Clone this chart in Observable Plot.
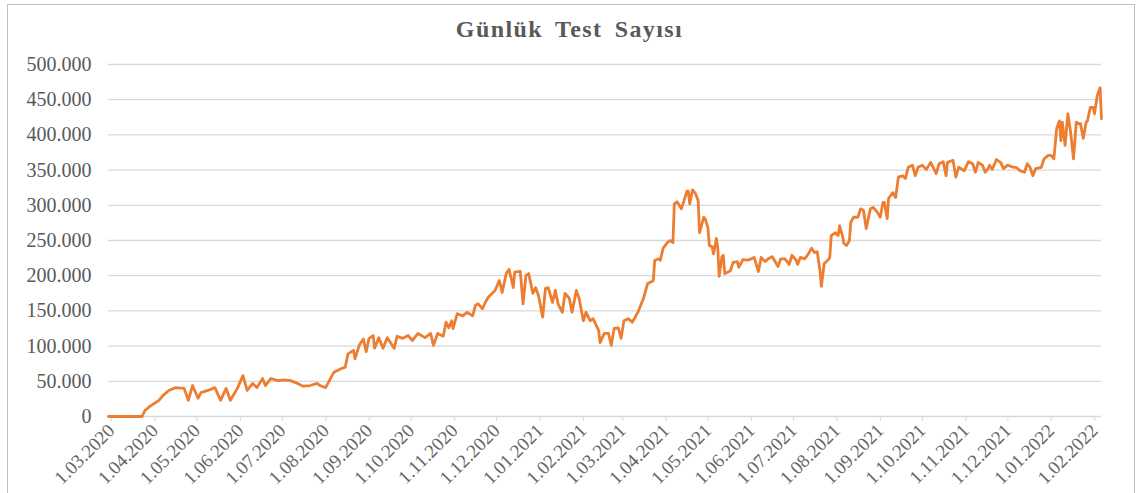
<!DOCTYPE html>
<html><head><meta charset="utf-8">
<script src="https://cdn.jsdelivr.net/npm/d3@7"></script>
<script src="https://cdn.jsdelivr.net/npm/@observablehq/plot@0.6"></script>
<style>
body{margin:0;background:#fff;}
#frame{position:absolute;left:7px;top:4px;width:1128px;height:540px;border:1px solid #bfbfbf;box-sizing:border-box;}
#title{position:absolute;left:0;top:16px;width:1139px;text-align:center;font-family:"Liberation Serif","Times New Roman",serif;font-weight:bold;font-size:24px;color:#595959;letter-spacing:1.4px;word-spacing:5px;}
#chart{position:absolute;left:0;top:50px;}
</style></head>
<body>
<div id="frame"></div>
<div id="title">Günlük Test Sayısı</div>
<div id="chart"></div>
<script>
const titleText = "Günlük Test Sayısı";
const yTicks = [0, 50000, 100000, 150000, 200000, 250000, 300000, 350000, 400000, 450000, 500000];

const dates = [
  // 2020
  "2020-03-01","2020-03-25","2020-03-27","2020-03-31",
  "2020-04-06","2020-04-09","2020-04-13","2020-04-18","2020-04-24","2020-04-27","2020-04-30",
  "2020-05-04","2020-05-06","2020-05-11","2020-05-16","2020-05-20","2020-05-24","2020-05-27",
  "2020-06-01","2020-06-05","2020-06-08","2020-06-12","2020-06-15","2020-06-19","2020-06-21","2020-06-25","2020-06-30",
  "2020-07-04","2020-07-09","2020-07-14","2020-07-18","2020-07-23","2020-07-28","2020-07-30",
  "2020-08-03","2020-08-07","2020-08-09","2020-08-14","2020-08-17","2020-08-19","2020-08-23","2020-08-24","2020-08-27","2020-08-30",
  "2020-09-01","2020-09-03","2020-09-06","2020-09-07","2020-09-10","2020-09-13","2020-09-16","2020-09-21","2020-09-23","2020-09-27",
  "2020-10-01","2020-10-04","2020-10-08","2020-10-13","2020-10-17","2020-10-19","2020-10-22","2020-10-26","2020-10-28","2020-10-30",
  "2020-11-01","2020-11-02","2020-11-05","2020-11-09","2020-11-12","2020-11-16","2020-11-18","2020-11-20","2020-11-23","2020-11-25","2020-11-27","2020-11-30",
  "2020-12-02","2020-12-05","2020-12-06","2020-12-07","2020-12-10","2020-12-12","2020-12-15","2020-12-16","2020-12-20","2020-12-22","2020-12-24","2020-12-26","2020-12-29","2020-12-31",
  // 2021
  "2021-01-02","2021-01-05","2021-01-07","2021-01-09","2021-01-12","2021-01-14","2021-01-16","2021-01-19","2021-01-21","2021-01-24","2021-01-26","2021-01-29","2021-01-31",
  "2021-02-03","2021-02-05","2021-02-08","2021-02-10","2021-02-14","2021-02-15","2021-02-18","2021-02-21","2021-02-23","2021-02-25","2021-02-28",
  "2021-03-02","2021-03-04","2021-03-07","2021-03-10","2021-03-14","2021-03-18","2021-03-21","2021-03-25","2021-03-26","2021-03-29","2021-03-30",
  "2021-04-01","2021-04-04","2021-04-06","2021-04-08","2021-04-09","2021-04-11","2021-04-14","2021-04-16","2021-04-18","2021-04-19","2021-04-20","2021-04-22","2021-04-24","2021-04-26","2021-04-27","2021-04-30",
  "2021-05-01","2021-05-03","2021-05-04","2021-05-06","2021-05-07","2021-05-09","2021-05-10","2021-05-11","2021-05-13","2021-05-14","2021-05-15","2021-05-17","2021-05-19","2021-05-21","2021-05-24","2021-05-25","2021-05-28","2021-05-31",
  "2021-06-03","2021-06-05","2021-06-08","2021-06-10","2021-06-13","2021-06-15","2021-06-18","2021-06-22","2021-06-24","2021-06-27","2021-06-30",
  "2021-07-02","2021-07-05","2021-07-06","2021-07-08","2021-07-11","2021-07-13","2021-07-14","2021-07-16","2021-07-18","2021-07-20","2021-07-22","2021-07-23","2021-07-25","2021-07-28","2021-07-29","2021-07-30",
  "2021-08-02","2021-08-04","2021-08-05","2021-08-07","2021-08-08","2021-08-10","2021-08-12","2021-08-13","2021-08-15","2021-08-18","2021-08-20","2021-08-22","2021-08-24","2021-08-27","2021-08-29",
  "2021-09-01","2021-09-03","2021-09-05","2021-09-06","2021-09-08","2021-09-09","2021-09-12","2021-09-14","2021-09-16","2021-09-19","2021-09-21","2021-09-23","2021-09-26","2021-09-28","2021-09-30",
  "2021-10-03","2021-10-06","2021-10-09","2021-10-13","2021-10-15","2021-10-18","2021-10-20","2021-10-21","2021-10-25","2021-10-27","2021-10-29",
  "2021-11-02","2021-11-05","2021-11-08","2021-11-10","2021-11-12","2021-11-15","2021-11-17","2021-11-19","2021-11-20","2021-11-22","2021-11-25","2021-11-28","2021-11-30",
  "2021-12-03","2021-12-07","2021-12-09","2021-12-12","2021-12-15","2021-12-17","2021-12-19","2021-12-21","2021-12-23","2021-12-27","2021-12-29",
  // 2022
  "2022-01-01","2022-01-03","2022-01-05","2022-01-07","2022-01-09","2022-01-10","2022-01-11","2022-01-13","2022-01-15","2022-01-17","2022-01-19","2022-01-21","2022-01-23","2022-01-24","2022-01-26","2022-01-28","2022-01-29","2022-01-31",
  "2022-02-02","2022-02-03","2022-02-05","2022-02-07","2022-02-08"
];

const tests = [
  // 2020
  0,0,8500,15000,
  23000,30000,37000,41000,40000,23000,44000,
  26000,34000,37000,41000,23000,40000,23000,
  40000,58000,37000,47000,41000,54000,44000,54000,51000,
  52000,51000,47000,43000,44000,47000,44000,
  41000,56000,63000,68000,70000,89000,94000,82000,101000,110000,
  92000,111000,115000,97000,112000,97000,112000,97000,114000,111000,
  115000,108000,118000,112000,118000,101000,118000,114000,134000,126000,
  136000,125000,146000,143000,148000,143000,158000,160000,153000,162000,169000,175000,
  179000,193000,186000,176000,203000,209000,183000,205000,206000,160000,200000,203000,175000,183000,
  // 2021
  172000,141000,182000,183000,162000,179000,160000,148000,175000,168000,148000,179000,168000,
  136000,148000,136000,139000,122000,105000,118000,118000,101000,125000,126000,
  111000,136000,139000,134000,148000,168000,189000,193000,222000,224000,222000,
  239000,247000,250000,247000,302000,305000,295000,307000,320000,320000,302000,322000,317000,307000,261000,283000,
  281000,268000,243000,241000,231000,253000,240000,199000,227000,229000,203000,205000,207000,219000,220000,212000,223000,222000,
  224000,226000,206000,226000,220000,224000,227000,213000,224000,224000,216000,
  229000,222000,216000,226000,224000,229000,232000,239000,233000,234000,207000,185000,217000,223000,226000,257000,
  261000,257000,271000,257000,246000,243000,250000,276000,283000,283000,295000,293000,267000,295000,297000,
  290000,283000,304000,304000,281000,310000,318000,311000,340000,342000,338000,354000,357000,342000,354000,
  357000,351000,361000,345000,359000,362000,342000,361000,364000,340000,354000,
  349000,362000,359000,347000,361000,357000,347000,352000,357000,351000,365000,361000,352000,
  357000,354000,354000,349000,347000,359000,354000,342000,352000,354000,366000,
  // 2022
  371000,371000,366000,409000,420000,392000,418000,385000,430000,403000,366000,418000,416000,416000,395000,418000,420000,439000,
  439000,430000,456000,467000,423000
];

if (dates.length !== tests.length) console.error("length mismatch", dates.length, tests.length);

const parse = d3.utcParse("%Y-%m-%d");
const data = dates.map((d, i) => ({date: parse(d), tests: tests[i]}));
const monthTicks = d3.utcMonth.range(parse("2020-03-01"), parse("2022-02-02"));
const fmtY = d => d3.format(",")(d).replace(/,/g, ".");
const fmtX = d3.utcFormat("%-d.%m.%Y");

document.getElementById("title").textContent = titleText;

const plot = Plot.plot({
  width: 1139,
  height: 443,
  marginTop: 14,
  marginBottom: 77,
  marginLeft: 108,
  marginRight: 38,
  style: {fontFamily: '"Liberation Serif", "Times New Roman", serif', background: "transparent", overflow: "visible"},
  x: {type: "utc", domain: [parse("2020-03-01"), parse("2022-02-08")], label: null},
  y: {domain: [0, 500000], label: null},
  marks: [
    Plot.ruleY(yTicks, {stroke: "#d9d9d9", strokeWidth: 1.3}),
    Plot.axisY(yTicks, {tickSize: 0, tickPadding: 17, tickFormat: fmtY, fontSize: 20, fill: "#595959", label: null}),
    Plot.axisX(monthTicks, {tickSize: 5, tickPadding: 6, dx: 3, tickRotate: -45, tickFormat: fmtX, stroke: "#d9d9d9", fill: "#666666", fontSize: 19, label: null}),
    Plot.lineY(data, {x: "date", y: "tests", stroke: "#ED7D31", strokeWidth: 2.8, strokeLinejoin: "round"})
  ]
});
document.getElementById("chart").appendChild(plot);
</script>
</body></html>
